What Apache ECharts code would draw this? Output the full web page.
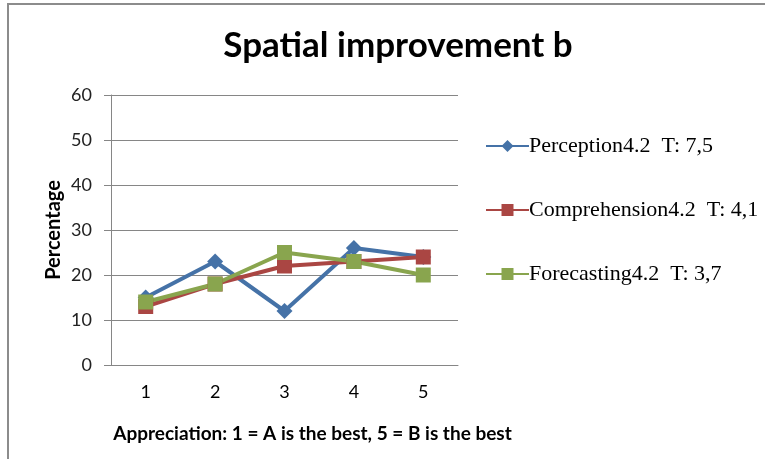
<!DOCTYPE html>
<html>
<head>
<meta charset="utf-8">
<script src="https://cdn.jsdelivr.net/npm/echarts@6/dist/echarts.min.js"></script>
<style>
  html, body { margin: 0; padding: 0; background: #fff; }
  #chart { width: 765px; height: 459px; }
</style>
</head>
<body>
<div id="chart"></div>
<script>
// Ratings on the 1..5 appreciation scale
const categories = ['1', '2', '3', '4', '5'];
const perception = [15, 23, 12, 26, 24];
const comprehension = [13, 18, 22, 23, 24];
const forecasting = [14, 18, 25, 23, 20];
const seriesNames = [
  'Perception4.2  T: 7,5',
  'Comprehension4.2  T: 4,1',
  'Forecasting4.2  T: 3,7'
];
const colors = ['#4572A7', '#AA4643', '#89A54E'];

const chart = echarts.init(document.getElementById('chart'));

function lineSeries(name, data, color, symbol, size) {
  return {
    name: name,
    type: 'line',
    data: data,
    symbol: symbol,
    symbolSize: size,
    lineStyle: { color: color, width: 4 },
    itemStyle: { color: color },
    emphasis: { disabled: true },
    animation: false
  };
}

chart.setOption({
  animation: false,
  color: colors,
  graphic: [{
    type: 'rect',
    shape: { x: 8, y: 4, width: 800, height: 500 },
    style: { fill: 'none', stroke: '#8c8c8c', lineWidth: 2 }
  }],
  title: {
    text: 'Spatial improvement b',
    left: 393,
    textAlign: 'center',
    top: 23,
    textStyle: { fontFamily: 'Lato', fontWeight: 'bold', fontSize: 35, color: '#000' }
  },
  legend: {
    orient: 'vertical',
    left: 480,
    top: 130,
    itemWidth: 43,
    itemHeight: 15,
    itemGap: 42,
    textStyle: { fontFamily: 'Liberation Serif', fontSize: 22, color: '#000', padding: [0, 0, 0, -5] },
    data: seriesNames
  },
  grid: { left: 111, top: 95, width: 347, height: 270 },
  xAxis: {
    type: 'category',
    data: categories,
    boundaryGap: true,
    name: 'Appreciation: 1 = A is the best, 5 = B is the best',
    nameLocation: 'middle',
    nameGap: 59,
    nameTextStyle: { fontFamily: 'Lato', fontWeight: 'bold', fontSize: 19, color: '#000', padding: [0, 0, 0, 56] },
    axisLine: { lineStyle: { color: '#868686', width: 1 } },
    axisTick: { show: false },
    axisLabel: { fontFamily: 'Lato', fontSize: 18, color: '#000', margin: 18 }
  },
  yAxis: {
    type: 'value',
    min: 0,
    max: 60,
    interval: 10,
    name: 'Percentage',
    nameLocation: 'middle',
    nameGap: 47,
    nameTextStyle: { fontFamily: 'Lato', fontWeight: 'bold', fontSize: 20, color: '#000' },
    axisLine: { show: true, lineStyle: { color: '#868686', width: 1 } },
    axisTick: { show: true, length: 7, lineStyle: { color: '#868686' } },
    axisLabel: { fontFamily: 'Lato', fontSize: 18, color: '#222', margin: 19 },
    splitLine: { lineStyle: { color: '#868686', width: 1 } }
  },
  series: [
    lineSeries(seriesNames[0], perception, colors[0], 'diamond', 16),
    lineSeries(seriesNames[1], comprehension, colors[1], 'rect', 15),
    lineSeries(seriesNames[2], forecasting, colors[2], 'rect', 15)
  ]
});
</script>
</body>
</html>
